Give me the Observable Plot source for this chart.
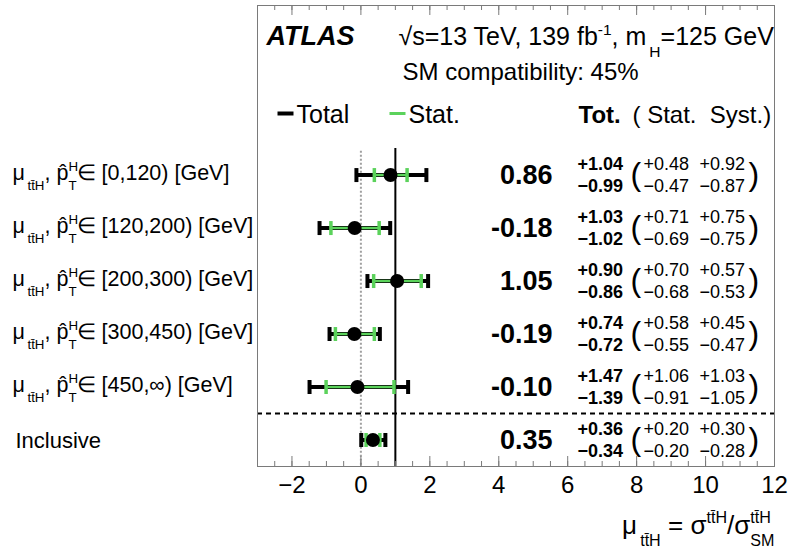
<!DOCTYPE html>
<html>
<head>
<meta charset="utf-8">
<script src="https://cdn.jsdelivr.net/npm/d3@7"></script>
<script src="https://cdn.jsdelivr.net/npm/@observablehq/plot@0.6"></script>
<style>
html, body { margin: 0; padding: 0; background: #fff; }
#chart svg { display: block; }
</style>
</head>
<body>
<div id="chart"></div>
<script>
// ---------------- data ----------------
const labels = [
  "μ_{tt\u0304H}, p\u0302^{H}_{T}∈ [0,120) [GeV]",
  "μ_{tt\u0304H}, p\u0302^{H}_{T}∈ [120,200) [GeV]",
  "μ_{tt\u0304H}, p\u0302^{H}_{T}∈ [200,300) [GeV]",
  "μ_{tt\u0304H}, p\u0302^{H}_{T}∈ [300,450) [GeV]",
  "μ_{tt\u0304H}, p\u0302^{H}_{T}∈ [450,∞) [GeV]",
  "Inclusive"
];
const mu      = [0.86, -0.18, 1.05, -0.19, -0.10, 0.35];
const totUp   = [1.04, 1.03, 0.90, 0.74, 1.47, 0.36];
const totDn   = [0.99, 1.02, 0.86, 0.72, 1.39, 0.34];
const statUp  = [0.48, 0.71, 0.70, 0.58, 1.06, 0.20];
const statDn  = [0.47, 0.69, 0.68, 0.55, 0.91, 0.20];
const systUp  = [0.92, 0.75, 0.57, 0.45, 1.03, 0.30];
const systDn  = [0.87, 0.75, 0.53, 0.47, 1.05, 0.28];
const xTicks  = [-2, 0, 2, 4, 6, 8, 10, 12];
const smValue = 1;
const headerTexts = {
  experiment: "ATLAS",
  energy: "√s=13 TeV, 139 fb^{-1}, m_{H}=125 GeV",
  compat: "SM compatibility: 45%",
  total: "Total",
  stat: "Stat.",
  tot: "Tot.",
  cols: "(\u00a0Stat.\u00a0\u00a0Syst.)",
  xTitle: "μ_{tt\u0304H} = σ^{tt\u0304H}/σ^{tt\u0304H}_{SM}"
};

// ---------------- layout ----------------
const W = 789, H = 550, mL = 257, mR = 15, mT = 5, mB = 84;
const fh = H - mT - mB;
const FONT = "'Liberation Sans', Arial, Helvetica, sans-serif";
const GREEN = "#5bd25b";
const FRAME = "#7a7a7a";

const rows = labels.map((label, i) => ({
  i, label, mu: mu[i],
  tu: totUp[i], td: totDn[i], su: statUp[i], sd: statDn[i], yu: systUp[i], yd: systDn[i]
}));
const minorTicks = d3.range(-3, 12.001, 0.5);

const f2 = v => v.toFixed(2);
const plus = v => "+" + f2(v);
const minus = v => "\u2212" + f2(v);
const fmtMu = v => (v < 0 ? "-" : "") + f2(Math.abs(v));
const fmtTick = d => d < 0 ? "\u2212" + (-d) : String(d);

const vbar = {draw(ctx, size) { const h = Math.sqrt(size / Math.PI); ctx.moveTo(0, -h); ctx.lineTo(0, h); }};
const hbar = {draw(ctx, size) { const h = Math.sqrt(size / Math.PI); ctx.moveTo(-h, 0); ctx.lineTo(h, 0); }};

const one = [0];

const chart = Plot.plot({
  width: W, height: H,
  marginLeft: mL, marginRight: mR, marginTop: mT, marginBottom: mB,
  style: {fontFamily: FONT, background: "white", color: "black", overflow: "visible"},
  x: {domain: [-3, 12], axis: null},
  y: {domain: [5.5, -3.2], axis: null},
  marks: [
    // reference lines
    Plot.ruleX([0], {y1: -0.45, y2: 5.5, stroke: "#a0a0a0", strokeWidth: 2, strokeDasharray: "2,2"}),
    Plot.ruleX([smValue], {y1: -0.5, y2: 5.5, stroke: "black", strokeWidth: 2}),
    Plot.ruleY([4.5], {stroke: "black", strokeWidth: 2, strokeDasharray: "5,4"}),

    // frame + ticks
    Plot.frame({stroke: FRAME}),
    Plot.ruleX(minorTicks, {insetTop: fh - 5, stroke: FRAME}),
    Plot.ruleX(minorTicks, {insetBottom: fh - 5, stroke: FRAME}),
    Plot.ruleX(xTicks, {insetTop: fh - 10, stroke: FRAME}),
    Plot.ruleX(xTicks, {insetBottom: fh - 10, stroke: FRAME}),
    Plot.text(xTicks, {x: d => d, frameAnchor: "bottom", dy: 26, lineAnchor: "bottom", text: fmtTick, fontSize: 24}),

    // total error bars
    Plot.ruleY(rows, {y: "i", x1: d => d.mu - d.td, x2: d => d.mu + d.tu, stroke: "black", strokeWidth: 4}),
    Plot.dot(rows, {x: d => d.mu - d.td, y: "i", symbol: vbar, r: 7, stroke: "black", strokeWidth: 4, fill: "none"}),
    Plot.dot(rows, {x: d => d.mu + d.tu, y: "i", symbol: vbar, r: 7, stroke: "black", strokeWidth: 4, fill: "none"}),
    // stat error bars
    Plot.ruleY(rows, {y: "i", x1: d => d.mu - d.sd, x2: d => d.mu + d.su, stroke: GREEN, strokeWidth: 2.5}),
    Plot.dot(rows, {x: d => d.mu - d.sd, y: "i", symbol: vbar, r: 7, stroke: GREEN, strokeWidth: 3.5, fill: "none"}),
    Plot.dot(rows, {x: d => d.mu + d.su, y: "i", symbol: vbar, r: 7, stroke: GREEN, strokeWidth: 3.5, fill: "none"}),
    // central values
    Plot.dot(rows, {x: "mu", y: "i", r: 7, fill: "black", stroke: "none"}),

    // row labels
    Plot.text(rows.filter(d => d.i < 5), {y: "i", frameAnchor: "left", dx: 12 - mL, dy: 5, lineAnchor: "bottom", textAnchor: "start", text: "label", fontSize: 21.5}),
    Plot.text(rows.filter(d => d.i === 5), {y: "i", frameAnchor: "left", dx: 15 - mL, dy: 8, lineAnchor: "bottom", textAnchor: "start", text: "label", fontSize: 22}),

    // numbers
    Plot.text(rows, {y: "i", frameAnchor: "left", dx: 552 - mL, dy: 9, lineAnchor: "bottom", textAnchor: "end", text: d => fmtMu(d.mu), fontSize: 27, fontWeight: "bold"}),
    Plot.text(rows, {y: "i", frameAnchor: "left", dx: 577 - mL, dy: -5, lineAnchor: "bottom", textAnchor: "start", text: d => plus(d.tu), fontSize: 18, fontWeight: "bold"}),
    Plot.text(rows, {y: "i", frameAnchor: "left", dx: 577 - mL, dy: 17, lineAnchor: "bottom", textAnchor: "start", text: d => minus(d.td), fontSize: 18, fontWeight: "bold"}),
    Plot.text(rows, {y: "i", frameAnchor: "left", dx: 630 - mL, dy: 10, lineAnchor: "bottom", textAnchor: "start", text: () => "(", fontSize: 32}),
    Plot.text(rows, {y: "i", frameAnchor: "left", dx: 643 - mL, dy: -5, lineAnchor: "bottom", textAnchor: "start", text: d => plus(d.su), fontSize: 18}),
    Plot.text(rows, {y: "i", frameAnchor: "left", dx: 643 - mL, dy: 17, lineAnchor: "bottom", textAnchor: "start", text: d => minus(d.sd), fontSize: 18}),
    Plot.text(rows, {y: "i", frameAnchor: "left", dx: 699 - mL, dy: -5, lineAnchor: "bottom", textAnchor: "start", text: d => plus(d.yu), fontSize: 18}),
    Plot.text(rows, {y: "i", frameAnchor: "left", dx: 699 - mL, dy: 17, lineAnchor: "bottom", textAnchor: "start", text: d => minus(d.yd), fontSize: 18}),
    Plot.text(rows, {y: "i", frameAnchor: "left", dx: 748 - mL, dy: 10, lineAnchor: "bottom", textAnchor: "start", text: () => ")", fontSize: 32}),

    // header
    Plot.text(one, {frameAnchor: "top-left", dx: 9, dy: 39, lineAnchor: "bottom", text: () => headerTexts.experiment, fontSize: 27, fontWeight: "bold", fontStyle: "italic"}),
    Plot.text(one, {frameAnchor: "top-left", dx: 141, dy: 39, lineAnchor: "bottom", text: () => headerTexts.energy, fontSize: 25}),
    Plot.text(one, {frameAnchor: "top-left", dx: 145, dy: 74, lineAnchor: "bottom", text: () => headerTexts.compat, fontSize: 24}),

    // legend
    Plot.dot(one, {frameAnchor: "top-left", dx: 28, dy: 108, symbol: hbar, r: 8, stroke: "black", strokeWidth: 4, fill: "none"}),
    Plot.text(one, {frameAnchor: "top-left", dx: 39, dy: 117, lineAnchor: "bottom", text: () => headerTexts.total, fontSize: 25}),
    Plot.dot(one, {frameAnchor: "top-left", dx: 140, dy: 108, symbol: hbar, r: 8, stroke: GREEN, strokeWidth: 3, fill: "none"}),
    Plot.text(one, {frameAnchor: "top-left", dx: 151, dy: 117, lineAnchor: "bottom", text: () => headerTexts.stat, fontSize: 25}),
    Plot.text(one, {frameAnchor: "top-left", dx: 321, dy: 117, lineAnchor: "bottom", text: () => headerTexts.tot, fontSize: 24, fontWeight: "bold"}),
    Plot.text(one, {frameAnchor: "top-left", dx: 375, dy: 117, lineAnchor: "bottom", text: () => headerTexts.cols, fontSize: 24}),

    // x axis title
    Plot.text(one, {frameAnchor: "bottom-right", dx: 0, dy: 67, lineAnchor: "bottom", textAnchor: "end", text: () => headerTexts.xTitle, fontSize: 26})
  ]
});

document.getElementById("chart").appendChild(chart);

// ---------- rich text: _{sub} and ^{sup} ----------
function richify(el) {
  const s = el.textContent;
  if (!/[_^]\{/.test(s)) return;
  const fs = parseFloat(getComputedStyle(el).fontSize) || 24;
  while (el.firstChild) el.removeChild(el.firstChild);
  const re = /([_^])\{([^}]*)\}/g;
  const toks = [];
  let last = 0, m;
  while ((m = re.exec(s))) {
    if (m.index > last) toks.push({k: "n", t: s.slice(last, m.index)});
    toks.push({k: m[1] === "_" ? "sub" : "sup", t: m[2]});
    last = re.lastIndex;
  }
  if (last < s.length) toks.push({k: "n", t: s.slice(last)});
  const NS = "http://www.w3.org/2000/svg";
  let cur = 0, prev = null;
  for (const tok of toks) {
    const ts = document.createElementNS(NS, "tspan");
    const target = tok.k === "sub" ? 0.48 * fs : tok.k === "sup" ? -0.4 * fs : 0;
    ts.setAttribute("dy", (target - cur).toFixed(2));
    cur = target;
    if (tok.k !== "n") ts.setAttribute("font-size", (0.62 * fs).toFixed(2));
    if (tok.k === "sub" && prev && prev.k === "n") ts.setAttribute("dx", (0.12 * fs).toFixed(2));
    ts.textContent = tok.t;
    el.appendChild(ts);
    if (tok.k === "sub" && prev && prev.k === "sup") {
      ts.setAttribute("dx", (-prev.el.getComputedTextLength()).toFixed(2));
    }
    tok.el = ts;
    prev = tok;
  }
}
chart.querySelectorAll("text").forEach(richify);
</script>
</body>
</html>
